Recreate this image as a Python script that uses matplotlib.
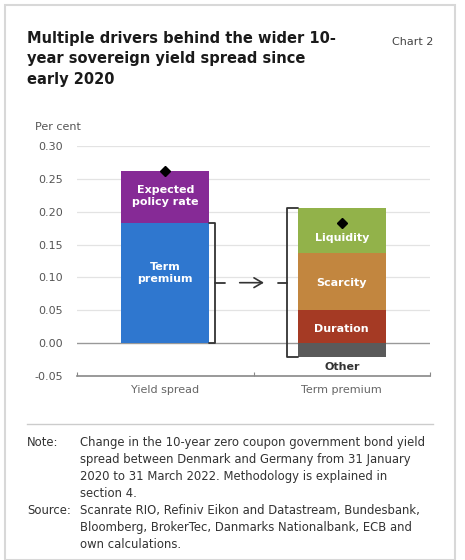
import numpy as np
import matplotlib.pyplot as plt
from matplotlib.patches import Rectangle

# values (per cent)
categories = ["Yield spread", "Term premium"]
spread_parts = ["Term\npremium", "Expected\npolicy rate"]
spread_vals = [0.1835, 0.079]
spread_total = 0.2625
tp_parts = ["Duration", "Scarcity", "Liquidity"]
tp_vals = [0.051, 0.086, 0.068]
tp_other = -0.021
tp_total = 0.183

c_blue = "#2f77cf"
c_purple = "#862a96"
c_tp = ["#a53a24", "#c2863f", "#92b24a"]
c_other = "#5a5a5a"

W, H = 465, 560
fig = plt.figure(figsize=(W / 100, H / 100), dpi=100)
plt.rcParams['font.family'] = ['DejaVu Sans']

# border of the chart box
fig.add_artist(Rectangle((5 / W, 0), 450 / W, 1 - 5 / H, transform=fig.transFigure,
                         fill=False, ec="#d8d8d8", lw=1.5))

fig.text(27 / W, 1 - 31 / H, "Multiple drivers behind the wider 10-\nyear sovereign yield spread since\nearly 2020",
         fontsize=10.5, fontweight="bold", va="top", ha="left", color="#1a1a1a", linespacing=1.45)
fig.text(433 / W, 1 - 42 / H, "Chart 2", fontsize=8, ha="right", va="center", color="#444444")

ax = fig.add_axes([77 / W, (H - 376) / H, 353 / W, 230 / H])
ax.set_xlim(0, 2)
ax.set_ylim(-0.05, 0.30)
ticks = np.arange(-0.05, 0.301, 0.05)
ax.set_yticks(ticks)
ax.set_yticklabels(["%.2f" % v if v > -0.001 else "-0.05" for v in ticks])
for y in np.arange(0.0, 0.301, 0.05):
    zero = abs(y) < 1e-9
    ax.axhline(y, color="#999999" if zero else "#e3e3e3", lw=1.0 if zero else 0.9, zorder=0)
for s in ["top", "right", "left"]:
    ax.spines[s].set_visible(False)
ax.spines["bottom"].set_color("#888888")
ax.spines["bottom"].set_linewidth(1.2)
ax.tick_params(axis="y", length=0, labelsize=8, colors="#555555", pad=10)
ax.set_xticks([0, 1, 2])
ax.set_xticklabels([])
ax.tick_params(axis="x", length=3, color="#888888", direction="in")
ax.text(-0.24, 0.329, "Per cent", fontsize=8, color="#555555", ha="left", va="center", clip_on=False)

# left bar: yield spread
bw = 0.5
bottom = 0
for v, c in zip(spread_vals, [c_blue, c_purple]):
    ax.bar(0.5, v, bw, bottom=bottom, color=c, zorder=2)
    bottom += v
ax.text(0.5, 0.107, spread_parts[0], color="white", fontsize=8, fontweight="bold", ha="center", va="center", zorder=3)
ax.text(0.5, 0.224, spread_parts[1], color="white", fontsize=8, fontweight="bold", ha="center", va="center", zorder=3)
ax.plot(0.5, spread_total, marker="D", color="black", ms=5, zorder=4)

# right bar: term premium decomposition
label_y = [0.022, 0.092, 0.160]
bottom = 0
for lab, v, c, ly in zip(tp_parts, tp_vals, c_tp, label_y):
    ax.bar(1.5, v, bw, bottom=bottom, color=c, zorder=2)
    ax.text(1.5, ly, lab, color="white", fontsize=8, fontweight="bold", ha="center", va="center", zorder=3)
    bottom += v
ax.bar(1.5, tp_other, bw, color=c_other, zorder=2)
ax.text(1.5, -0.037, "Other", color="#333333", fontsize=8, fontweight="bold", ha="center", va="center")
ax.plot(1.5, tp_total, marker="D", color="black", ms=5, zorder=4)

# brackets and arrow
bk = dict(color="#333333", lw=1.3, solid_joinstyle="round", solid_capstyle="round", zorder=3)
ax.plot([0.748, 0.782, 0.782, 0.748], [spread_vals[0], spread_vals[0], 0, 0], **bk)
right_top = sum(tp_vals)
ax.plot([1.252, 1.19, 1.19, 1.252], [right_top, right_top, tp_other, tp_other], **bk)
ymid = 0.092
ax.plot([0.782, 0.838], [ymid, ymid], **bk)
ax.plot([1.139, 1.19], [ymid, ymid], **bk)
ax.annotate("", xy=(1.075, ymid), xytext=(0.906, ymid),
            arrowprops=dict(arrowstyle="->,head_length=0.6,head_width=0.35", color="#333333", lw=1.2))

for x, lab in zip([0.5, 1.5], categories):
    ax.text(x, -0.064, lab, fontsize=8, color="#666666", ha="center", va="top", clip_on=False)

# note and source
fig.add_artist(plt.Line2D([27 / W, 433 / W], [1 - 424 / H, 1 - 424 / H], color="#cccccc", lw=1))
note = "Change in the 10-year zero coupon government bond yield\nspread between Denmark and Germany from 31 January\n2020 to 31 March 2022. Methodology is explained in\nsection 4."
source = "Scanrate RIO, Refiniv Eikon and Datastream, Bundesbank,\nBloomberg, BrokerTec, Danmarks Nationalbank, ECB and\nown calculations."
fs = 8.4
fig.text(27 / W, 1 - 443 / H, "Note:", fontsize=fs, color="#333333", va="center")
fig.text(80 / W, 1 - 436 / H, note, fontsize=fs, color="#333333", va="top", linespacing=1.4)
fig.text(27 / W, 1 - 511 / H, "Source:", fontsize=fs, color="#333333", va="center")
fig.text(80 / W, 1 - 504 / H, source, fontsize=fs, color="#333333", va="top", linespacing=1.4)

fig.savefig("out.png", dpi=100)
